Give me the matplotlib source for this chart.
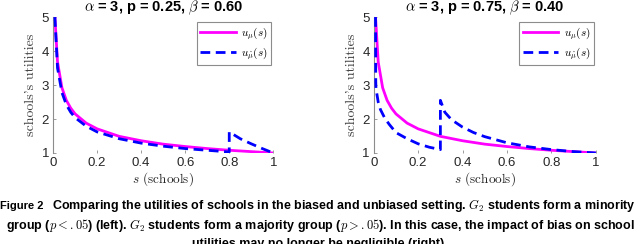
import matplotlib
matplotlib.use('Agg')
import matplotlib.pyplot as plt

plt.rcParams['mathtext.fontset'] = 'cm'
plt.rcParams['font.family'] = ['Liberation Sans', 'DejaVu Sans']

# 左图：alpha = 3, p = 0.25, beta = 0.60
s_mu = [0.008, 0.02, 0.04, 0.06, 0.08, 0.1, 0.15, 0.2, 0.3, 0.4, 0.5, 0.6, 0.7, 0.8, 0.9, 1.0]
u_mu = [5.0, 3.68, 2.92, 2.55, 2.32, 2.15, 1.88, 1.71, 1.49, 1.36, 1.26, 1.19, 1.13, 1.08, 1.04, 1.0]

s_hat_left = [0.008, 0.02, 0.04, 0.06, 0.08, 0.1, 0.15, 0.2, 0.3, 0.4, 0.5, 0.6, 0.7, 0.8,
              0.8, 0.85, 0.9, 0.95, 1.0]
u_hat_left = [5.0, 3.5, 2.78, 2.42, 2.2, 2.04, 1.79, 1.62, 1.42, 1.29, 1.2, 1.13, 1.08, 1.03,
              1.62, 1.42, 1.27, 1.13, 1.0]

# 右图：alpha = 3, p = 0.75, beta = 0.40
s_hat_right = [0.008, 0.009, 0.01, 0.02, 0.03, 0.05, 0.07, 0.1, 0.15, 0.2, 0.25, 0.3,
               0.3, 0.32, 0.35, 0.4, 0.45, 0.5, 0.6, 0.7, 0.8, 0.9, 1.0]
u_hat_right = [5.0, 3.1, 2.9, 2.5, 2.28, 2.02, 1.84, 1.6, 1.42, 1.27, 1.17, 1.1,
               2.55, 2.2, 1.98, 1.76, 1.6, 1.48, 1.3, 1.18, 1.1, 1.04, 1.0]

titles = [r'$\alpha$ = 3, p = 0.25, $\beta$ = 0.60', r'$\alpha$ = 3, p = 0.75, $\beta$ = 0.40']
x_ticks = [0, 0.2, 0.4, 0.6, 0.8, 1]
x_tick_labels = ['0', '0.2', '0.4', '0.6', '0.8', '1']
y_ticks = [1, 2, 3, 4, 5]

fig = plt.figure(figsize=(6.4, 2.44), dpi=100)
ax1 = fig.add_axes([0.083, 0.373, 0.344, 0.557])
ax2 = fig.add_axes([0.584, 0.373, 0.347, 0.557])

for ax, s_hat, u_hat, title in [(ax1, s_hat_left, u_hat_left, titles[0]),
                                (ax2, s_hat_right, u_hat_right, titles[1])]:
    ax.plot(s_mu, u_mu, color='#ff00ff', lw=2, label=r'$u_{\mu}(s)$', zorder=2)
    ax.plot(s_hat, u_hat, color='#0000ff', lw=2, dashes=(3.5, 2), label=r'$u_{\hat{\mu}}(s)$', zorder=3)
    ax.set_xlim(0, 1)
    ax.set_ylim(1, 5)
    ax.set_xticks(x_ticks)
    ax.set_xticklabels(x_tick_labels)
    ax.set_yticks(y_ticks)
    for side in ['top', 'right', 'bottom']:
        ax.spines[side].set_visible(False)
    ax.spines['left'].set_color('#8c8c8c')
    ax.spines['left'].set_linewidth(0.8)
    ax.tick_params(direction='in', length=2.5, width=0.6, color='#8c8c8c',
                   labelcolor='#262626', labelsize=9.5, pad=3)
    ax.set_title(title, fontsize=10.5, fontweight='bold', pad=3)
    ax.set_xlabel(r'$s$ (schools)', family='cmr10', fontsize=9.5, labelpad=1, color='#262626')
    ax.set_ylabel("schools's utilities", family='cmr10', fontsize=10, labelpad=3, color='#404040')
    leg = ax.legend(loc='upper right', bbox_to_anchor=(0.99, 0.965), fontsize=8,
                    handlelength=3.2, fancybox=False, framealpha=1,
                    borderpad=0.3, labelspacing=0.25, handletextpad=0.5, borderaxespad=0)
    leg.get_frame().set_edgecolor('#8c8c8c')
    leg.get_frame().set_linewidth(0.8)

# 图注
cap_kw = dict(fontweight='bold', va='center', color='black')
fig.text(0.0, 1 - 206 / 244, 'Figure 2', ha='left', fontsize=8, **cap_kw)
fig.text(0.081, 1 - 206 / 244,
         r'Comparing the utilities of schools in the biased and unbiased setting. $G_2$ students form a minority',
         ha='left', fontsize=9, **cap_kw)
fig.text(0.5, 1 - 226 / 244,
         r'group ($p < .05$) (left). $G_2$ students form a majority group ($p > .05$). In this case, the impact of bias on school',
         ha='center', fontsize=9, **cap_kw)
fig.text(0.5, 1 - 244 / 244, 'utilities may no longer be negligible (right).', ha='center', fontsize=9, **cap_kw)

fig.savefig('out.png', dpi=100)
